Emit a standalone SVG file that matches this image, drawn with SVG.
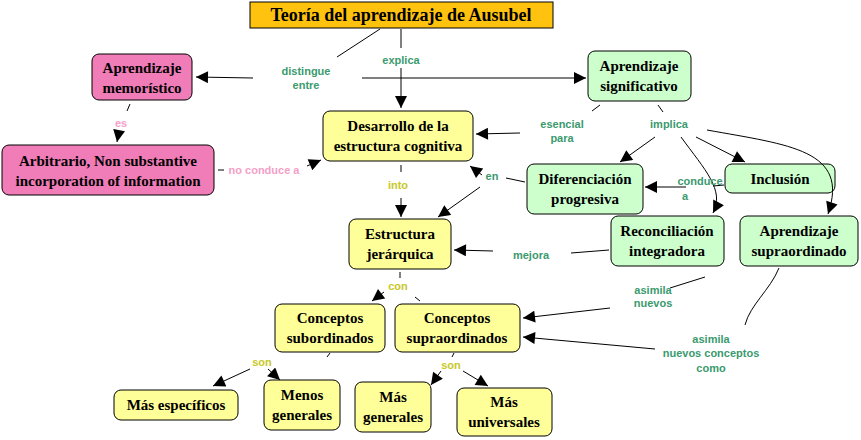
<svg xmlns="http://www.w3.org/2000/svg" width="861" height="440" viewBox="0 0 861 440">
<defs>
<marker id="a" viewBox="0 0 10 10" refX="10" refY="5" markerWidth="14" markerHeight="12" markerUnits="userSpaceOnUse" orient="auto"><path d="M0,0L10,5L0,10z" fill="#000"/></marker>
<style>
.n rect{stroke:#000;stroke-width:1}
.p rect{fill:#f07cb8}.y rect{fill:#ffff99}.g rect{fill:#ccffcc}
.t{font-family:"Liberation Serif",serif;font-weight:bold;font-size:15px;text-anchor:middle}
.l{font-family:"Liberation Sans",Arial,sans-serif;font-weight:bold;font-size:11px;text-anchor:middle;fill:#3a9a6e}
.lp{fill:#f4a0c8}.ly{fill:#c8c828}
#c path,#c line{stroke:#000;stroke-width:1;fill:none}
.ar{marker-end:url(#a)}
</style>
</defs>
<rect width="861" height="440" fill="#fff"/>
<g id="title"><rect x="250" y="2" width="303" height="26" fill="#ffc20e" stroke="#000"/><text x="401" y="21" class="t" style="font-size:18px">Teoría del aprendizaje de Ausubel</text></g>
<g id="memoristico" class="n p"><rect x="92" y="54" width="100" height="46" rx="7"/><text class="t" x="142" y="73">Aprendizaje</text><text class="t" x="142" y="93">memorístico</text></g>
<g id="arbitrario" class="n p"><rect x="2" y="145" width="212" height="50" rx="7"/><text class="t" x="108" y="166">Arbitrario,  Non substantive</text><text class="t" x="108" y="186">incorporation of information</text></g>
<g id="desarrollo" class="n y"><rect x="323" y="111" width="150" height="50" rx="7"/><text class="t" x="398" y="131">Desarrollo de la</text><text class="t" x="398" y="151">estructura cognitiva</text></g>
<g id="significativo" class="n g"><rect x="588" y="51" width="103" height="50" rx="7"/><text class="t" x="639" y="71">Aprendizaje</text><text class="t" x="639" y="91">significativo</text></g>
<g id="diferenciacion" class="n g"><rect x="527" y="164" width="116" height="50" rx="7"/><text class="t" x="585" y="184">Diferenciación</text><text class="t" x="585" y="204">progresiva</text></g>
<g id="inclusion" class="n g"><rect x="725" y="164" width="110" height="29" rx="7"/><text class="t" x="780" y="184">Inclusión</text></g>
<g id="reconciliacion" class="n g"><rect x="611" y="216" width="113" height="50" rx="7"/><text class="t" x="667" y="236">Reconciliación</text><text class="t" x="667" y="256">integradora</text></g>
<g id="supraordinado" class="n g"><rect x="740" y="216" width="118" height="50" rx="7"/><text class="t" x="799" y="236">Aprendizaje</text><text class="t" x="799" y="256">supraordinado</text></g>
<g id="estructura" class="n y"><rect x="349" y="219" width="102" height="50" rx="7"/><text class="t" x="400" y="239">Estructura</text><text class="t" x="400" y="259">jerárquica</text></g>
<g id="subordinados" class="n y"><rect x="275" y="304" width="110" height="48" rx="7"/><text class="t" x="330" y="323">Conceptos</text><text class="t" x="330" y="343">subordinados</text></g>
<g id="supraordinados" class="n y"><rect x="395" y="304" width="125" height="48" rx="7"/><text class="t" x="457" y="323">Conceptos</text><text class="t" x="457" y="343">supraordinados</text></g>
<g id="especificos" class="n y"><rect x="114" y="390" width="124" height="30" rx="7"/><text class="t" x="176" y="410">Más específicos</text></g>
<g id="menos" class="n y"><rect x="264" y="380" width="76" height="50" rx="7"/><text class="t" x="302" y="400">Menos</text><text class="t" x="302" y="420">generales</text></g>
<g id="masgen" class="n y"><rect x="355" y="382" width="76" height="50" rx="7"/><text class="t" x="393" y="402">Más</text><text class="t" x="393" y="422">generales</text></g>
<g id="universales" class="n y"><rect x="457" y="388" width="95" height="48" rx="7"/><text class="t" x="504" y="407">Más</text><text class="t" x="504" y="427">universales</text></g>
<g id="c">
<line x1="380" y1="29" x2="337" y2="57"/>
<line x1="253" y1="78" x2="196" y2="77" class="ar"/>
<line x1="362" y1="78" x2="586" y2="78" class="ar"/>
<line x1="401" y1="29" x2="401" y2="48"/>
<line x1="401" y1="68" x2="401" y2="108" class="ar"/>
<line x1="130" y1="104" x2="127" y2="111"/>
<line x1="119" y1="131" x2="117" y2="142" class="ar"/>
<line x1="218" y1="170" x2="224" y2="170"/>
<line x1="307" y1="166" x2="321" y2="160" class="ar"/>
<line x1="600" y1="105" x2="592" y2="111"/>
<line x1="520" y1="133" x2="476" y2="134" class="ar"/>
<line x1="658" y1="105" x2="663" y2="112"/>
<line x1="655" y1="137" x2="620" y2="162" class="ar"/>
<line x1="696" y1="137" x2="745" y2="162" class="ar"/>
<path d="M681,137 C705,170 725,190 713,213" class="ar"/>
<path d="M707,130 C790,145 850,150 828,214" class="ar"/>
<line x1="724" y1="185" x2="713" y2="186"/>
<line x1="686" y1="187" x2="645" y2="187" class="ar"/>
<line x1="525" y1="182" x2="506" y2="178"/>
<line x1="482" y1="175" x2="470" y2="166" class="ar"/>
<line x1="480" y1="187" x2="438" y2="217" class="ar"/>
<line x1="609" y1="250" x2="571" y2="253"/>
<line x1="493" y1="251" x2="454" y2="250" class="ar"/>
<line x1="401" y1="165" x2="401" y2="172"/>
<line x1="401" y1="198" x2="401" y2="217" class="ar"/>
<line x1="400" y1="272" x2="400" y2="278"/>
<line x1="384" y1="292" x2="372" y2="301" class="ar"/>
<line x1="415" y1="297" x2="420" y2="301"/>
<line x1="705" y1="277" x2="670" y2="288"/>
<line x1="610" y1="308" x2="523" y2="318" class="ar"/>
<path d="M779,268 C770,290 750,305 745,325"/>
<line x1="655" y1="349" x2="523" y2="337" class="ar"/>
<line x1="330" y1="353" x2="327" y2="357"/>
<line x1="250" y1="369" x2="213" y2="386" class="ar"/>
<line x1="268" y1="369" x2="280" y2="380" class="ar"/>
<line x1="454" y1="353" x2="452" y2="357"/>
<line x1="441" y1="371" x2="431" y2="385" class="ar"/>
<line x1="463" y1="371" x2="488" y2="386" class="ar"/>
</g>
<g id="labels">
<text class="l" x="306" y="75">distingue</text><text class="l" x="306" y="89">entre</text>
<text class="l" x="401" y="64">explica</text>
<text class="l lp" x="121" y="127">es</text>
<text class="l lp" x="264" y="174">no conduce a</text>
<text class="l" x="562" y="128">esencial</text><text class="l" x="562" y="142">para</text>
<text class="l" x="669" y="128">implica</text>
<text class="l" x="700" y="185">conduce</text><text class="l" x="685" y="200">a</text>
<text class="l" x="492" y="180">en</text>
<text class="l" x="531" y="259">mejora</text>
<text class="l ly" x="398" y="189">into</text>
<text class="l ly" x="398" y="290">con</text>
<text class="l" x="653" y="294">asimila</text><text class="l" x="653" y="307">nuevos</text>
<text class="l" x="711" y="343">asimila</text><text class="l" x="711" y="357">nuevos conceptos</text><text class="l" x="711" y="372">como</text>
<text class="l ly" x="262" y="366">son</text>
<text class="l ly" x="451" y="369">son</text>
</g>
</svg>
